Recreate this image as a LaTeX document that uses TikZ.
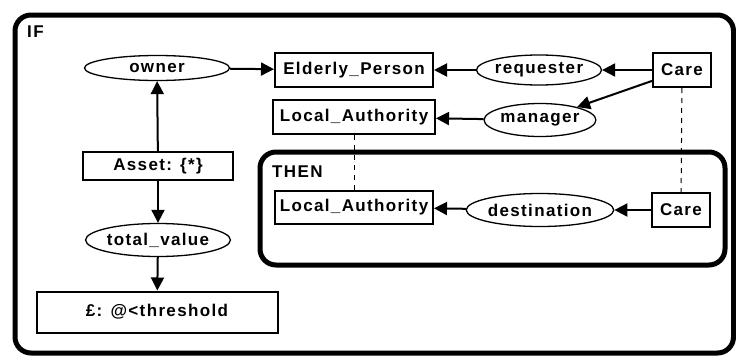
\documentclass[tikz,border=0pt]{standalone}
\usepackage{fontspec}
\usepackage{tikz}
\usetikzlibrary{shapes.geometric,arrows.meta}
\newfontfamily\cgfont{Liberation Sans}[LetterSpace=8]

\begin{document}
\begin{tikzpicture}[
                x=1pt, y=-1pt,
                every node/.style={font=\cgfont\bfseries\fontsize{17}{20}\selectfont, inner sep=0pt},
                concept/.style={draw, line width=2pt, minimum height=34pt},
                relation/.style={draw, ellipse, line width=1.3pt},
                link/.style={line width=2pt, -{Triangle[length=13pt,width=13pt]}},
                coref/.style={line width=1pt, dash pattern=on 5pt off 5pt},
                context/.style={line width=5pt, rounded corners=16pt}
            ]
                \useasboundingbox (0,0) rectangle (736,356);
                % contexts
                \draw[context] (15,15) rectangle (733.5,353);
                \node[anchor=west] (iflabel) at (27,32) {IF};
                \draw[context] (260,152) rectangle (725,265);
                \node[anchor=west] (thenlabel) at (272,172) {THEN};
                % concepts
                \node[concept, minimum width=158pt] (elderly) at (354,70) {Elderly\_Person};
                \node[concept, minimum width=58pt] (care) at (682,70) {Care};
                \node[concept, minimum width=162pt] (authority) at (354,117) {Local\_Authority};
                \node[concept, minimum width=150pt, minimum height=28pt] (asset) at (158,166) {Asset: \{*\}};
                \node[concept, minimum width=241pt, minimum height=41pt] (money) at (157,312) {£: @<threshold};
                \node[concept, minimum width=158pt, minimum height=33pt] (authority2) at (354,207) {Local\_Authority};
                \node[concept, minimum width=58pt] (care2) at (681,210) {Care};
                % relations
                \node[relation, minimum width=145pt, minimum height=25pt] (owner) at (157,68) {owner};
                \node[relation, minimum width=108pt, minimum height=30pt] (requester) at (539,70) {requester};
                \node[relation, minimum width=95pt, minimum height=33pt] (manager) at (540,120) {manager};
                \node[relation, minimum width=120pt, minimum height=33pt] (total) at (158,240) {total\_value};
                \node[relation, minimum width=120pt, minimum height=33pt] (destination) at (540,210) {destination};
                % arcs
                \draw[link] (asset) -- (owner);
                \draw[link] (owner) -- (elderly);
                \draw[link] (care) -- (requester);
                \draw[link] (requester) -- (elderly);
                \draw[link] (care.200) -- (manager);
                \draw[link] (manager) -- (authority);
                \draw[link] (asset) -- (total);
                \draw[link] (total) -- (money);
                \draw[link] (care2) -- (destination);
                \draw[link] (destination) -- (authority2);
                % coreference links
                \draw[coref] (care) -- (care2);
                \draw[coref] (authority) -- (authority2);
            \end{tikzpicture}
\end{document}
